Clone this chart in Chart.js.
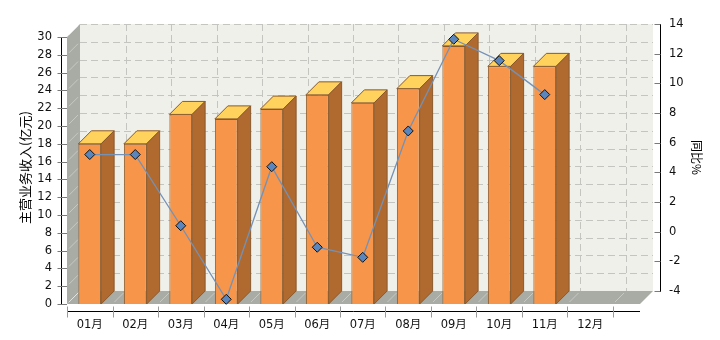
<!DOCTYPE html>
<html><head><meta charset="utf-8">
<script src="https://cdn.jsdelivr.net/npm/chart.js@4/dist/chart.umd.min.js"></script>
<style>html,body{margin:0;padding:0;background:#fff}</style>
</head><body>
<canvas id="c" width="720" height="340" style="display:block;width:720px;height:340px"></canvas>
<script>
const months = ['01月','02月','03月','04月','05月','06月','07月','08月','09月','10月','11月','12月'];
const revenue = [18.0, 18.0, 21.3, 20.8, 21.9, 23.5, 22.6, 24.2, 29.0, 26.7, 26.7, null];
const yoy = [5.2, 5.2, 0.4, -4.56, 4.38, -1.05, -1.73, 6.79, 12.97, 11.53, 9.24, null];
const leftTicks = [0,2,4,6,8,10,12,14,16,18,20,22,24,26,28,30];
const rightTicks = [-4,-2,0,2,4,6,8,10,12,14];

const DEPTH = 13;
const FONT = "'DejaVu Sans','Noto Sans CJK SC',sans-serif";

function frame(chart){
  const x = chart.scales.x, y = chart.scales.y;
  const fl = x.getPixelForValue(-0.5);
  const fr = chart.chartArea.right - 20;
  const ft = y.getPixelForValue(leftTicks[leftTicks.length-1]);
  const fb = y.getPixelForValue(0);
  return {fl, fr, ft, fb};
}

const threeD = {
  id: 'threeD',
  afterLayout(chart){
    const s = chart.scales.y1;
    if (s && !s._shiftPatched){
      const orig = s.drawTitle;
      s.drawTitle = function(){
        const c = this.ctx;
        const mid = (this.getPixelForValue(rightTicks[0]) + this.getPixelForValue(rightTicks[rightTicks.length-1]))/2;
        c.save(); c.translate(0, mid - (this.top + this.bottom)/2);
        orig.apply(this, arguments); c.restore();
      };
      s._shiftPatched = true;
    }
  },
  beforeDatasetsDraw(chart){
    const ctx = chart.ctx, x = chart.scales.x, y = chart.scales.y;
    const {fl, fr, ft, fb} = frame(chart);
    const D = DEPTH;
    ctx.save();
    ctx.fillStyle = '#f0f0ea';
    ctx.fillRect(fl + D, ft - D, fr - fl, fb - ft);
    ctx.fillStyle = '#a9aba5';
    ctx.beginPath();
    ctx.moveTo(fl, ft); ctx.lineTo(fl + D, ft - D); ctx.lineTo(fl + D, fb - D); ctx.lineTo(fl, fb); ctx.closePath(); ctx.fill();
    ctx.beginPath();
    ctx.moveTo(fl, fb); ctx.lineTo(fl + D, fb - D); ctx.lineTo(fr + D, fb - D); ctx.lineTo(fr, fb); ctx.closePath(); ctx.fill();
    ctx.strokeStyle = '#c4c4c0';
    ctx.lineWidth = 1;
    ctx.setLineDash([7,4]);
    leftTicks.forEach(v => {
      if (v === 0) return;
      const py = Math.round(y.getPixelForValue(v) - D) + 0.5;
      ctx.beginPath(); ctx.moveTo(fl + D, py); ctx.lineTo(fr + D, py); ctx.stroke();
    });
    for (let k = 1; k < months.length + 1; k++){
      const px = Math.round(x.getPixelForValue(k - 0.5) + D) + 0.5;
      ctx.beginPath(); ctx.moveTo(px, ft - D); ctx.lineTo(px, fb - D); ctx.stroke();
    }
    ctx.setLineDash([]);
    ctx.strokeStyle = 'rgba(255,255,255,0.35)';
    leftTicks.forEach(v => {
      const py = y.getPixelForValue(v);
      ctx.beginPath(); ctx.moveTo(fl + 2, py - 2); ctx.lineTo(fl + D - 2, py - D + 2); ctx.stroke();
    });
    for (let k = 0; k <= months.length; k++){
      const px = x.getPixelForValue(k - 0.5);
      ctx.beginPath(); ctx.moveTo(px + 2, fb - 2); ctx.lineTo(px + D - 2, fb - D + 2); ctx.stroke();
    }
    ctx.restore();
  },
  afterDatasetDraw(chart, args){
    if (args.index !== 0) return;
    const ctx = chart.ctx, D = DEPTH;
    ctx.save();
    ctx.lineWidth = 1;
    ctx.strokeStyle = '#8a5a2c';
    args.meta.data.forEach((bar, i) => {
      if (revenue[i] == null) return;
      const p = bar.getProps(['x','y','base','width'], true);
      const xl = p.x - p.width/2, xr = p.x + p.width/2, yt = p.y, yb = p.base;
      ctx.fillStyle = '#ffd25e';
      ctx.beginPath();
      ctx.moveTo(xl, yt); ctx.lineTo(xl + D, yt - D); ctx.lineTo(xr + D, yt - D); ctx.lineTo(xr, yt); ctx.closePath();
      ctx.fill(); ctx.stroke();
      ctx.fillStyle = '#b06a30';
      ctx.beginPath();
      ctx.moveTo(xr, yt); ctx.lineTo(xr + D, yt - D); ctx.lineTo(xr + D, yb - D); ctx.lineTo(xr, yb); ctx.closePath();
      ctx.fill(); ctx.stroke();
    });
    ctx.restore();
  },
  afterDraw(chart){
    const ctx = chart.ctx, x = chart.scales.x, y = chart.scales.y, y1 = chart.scales.y1;
    const {fl, fr, ft, fb} = frame(chart);
    ctx.save();
    ctx.lineWidth = 1;
    const lx = Math.round(chart.chartArea.left) + 0.5;
    ctx.strokeStyle = '#000';
    ctx.beginPath(); ctx.moveTo(lx, Math.round(ft)); ctx.lineTo(lx, Math.round(fb) + 1); ctx.stroke();
    ctx.strokeStyle = '#7a7a7a';
    leftTicks.forEach(v => {
      const py = Math.round(y.getPixelForValue(v)) + 0.5;
      ctx.beginPath(); ctx.moveTo(lx - 4, py); ctx.lineTo(fl, py); ctx.stroke();
    });
    const rx = Math.round(chart.chartArea.right) + 0.5;
    ctx.strokeStyle = '#000';
    ctx.beginPath();
    ctx.moveTo(rx, Math.round(y1.getPixelForValue(rightTicks[rightTicks.length-1])));
    ctx.lineTo(rx, Math.round(y1.getPixelForValue(rightTicks[0])) + 1); ctx.stroke();
    ctx.strokeStyle = '#7a7a7a';
    rightTicks.forEach(v => {
      const py = Math.round(y1.getPixelForValue(v)) + 0.5;
      ctx.beginPath(); ctx.moveTo(rx - 6, py); ctx.lineTo(rx, py); ctx.stroke();
    });
    const by = Math.round(chart.chartArea.bottom) + 0.5;
    ctx.strokeStyle = '#000';
    ctx.beginPath(); ctx.moveTo(Math.round(fl), by); ctx.lineTo(Math.round(fr), by); ctx.stroke();
    ctx.strokeStyle = '#9a9a9a';
    for (let k = 0; k <= months.length; k++){
      const px = Math.round(x.getPixelForValue(k - 0.5)) + 0.5;
      ctx.beginPath(); ctx.moveTo(px, by - 5); ctx.lineTo(px, by + 6); ctx.stroke();
    }
    ctx.restore();
  }
};

new Chart(document.getElementById('c'), {
  data: {
    datasets: [
      {
        type: 'bar',
        label: '主营业务收入',
        data: months.map((m, i) => ({x: i, y: revenue[i]})),
        xAxisID: 'x', yAxisID: 'y',
        backgroundColor: '#f7964a',
        borderColor: '#8a5a2c',
        borderWidth: 1,
        categoryPercentage: 1,
        barPercentage: 0.5,
        order: 2
      },
      {
        type: 'line',
        label: '同比%',
        data: months.map((m, i) => ({x: i, y: yoy[i]})),
        xAxisID: 'x', yAxisID: 'y1',
        borderColor: '#7491b6',
        borderWidth: 1.3,
        tension: 0,
        pointStyle: 'rectRot',
        pointRadius: 5,
        pointBackgroundColor: '#5a86bd',
        pointBorderColor: '#111',
        pointBorderWidth: 1,
        order: 1
      }
    ]
  },
  options: {
    responsive: false,
    animation: false,
    devicePixelRatio: 1,
    layout: {padding: {top: 24, left: 0, right: 0, bottom: 0}},
    plugins: {legend: {display: false}, tooltip: {enabled: false}},
    scales: {
      x: {
        type: 'linear',
        position: 'bottom',
        offset: false,
        min: -0.6319, max: 12.533,
        grid: {display: false, drawTicks: false, offset: false},
        border: {display: false},
        afterBuildTicks: s => { s.ticks = months.map((m, i) => ({value: i})); },
        afterFit: s => { s.height = 29; },
        ticks: {
          autoSkip: false, maxRotation: 0, padding: 7,
          color: '#111', font: {family: FONT, size: 11.5},
          callback: v => months[v]
        }
      },
      y: {
        type: 'linear',
        position: 'left',
        min: -0.7865, max: 31.4607,
        grid: {display: false, drawTicks: false},
        border: {display: false},
        afterBuildTicks: s => { s.ticks = leftTicks.map(v => ({value: v})); },
        afterFit: s => { s.width = 61; },
        ticks: {padding: 9, color: '#111', font: {family: FONT, size: 11.5}},
        title: {display: true, text: '主营业务收入(亿元)', color: '#000',
          font: {family: "'Noto Sans CJK SC',sans-serif", size: 13}, padding: {top: 17, bottom: 0}}
      },
      y1: {
        type: 'linear',
        position: 'right',
        min: -5.3483, max: 14,
        grid: {display: false, drawTicks: false},
        border: {display: false},
        afterBuildTicks: s => { s.ticks = rightTicks.map(v => ({value: v})); },
        afterFit: s => { s.width = 60; },
        ticks: {padding: 9, color: '#111', font: {family: FONT, size: 11.5}},
        title: {display: true, text: '同比%', color: '#000',
          font: {family: "'Noto Sans CJK SC',sans-serif", size: 12}, padding: {top: 16, bottom: 0}}
      }
    }
  },
  plugins: [threeD]
});
</script>
</body></html>
